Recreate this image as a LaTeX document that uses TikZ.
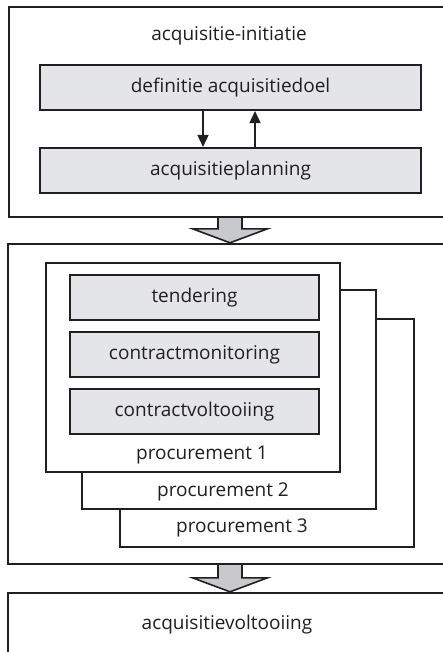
\documentclass[tikz,border=0pt]{standalone}
\usepackage{fontspec}
\setmainfont{Open Sans}
\usetikzlibrary{arrows.meta}

\definecolor{ink}{HTML}{231F20}
\definecolor{stepfill}{HTML}{E4E5E9}
\definecolor{flowfill}{HTML}{C8C9CD}

\tikzset{
  phase/.style={draw=ink, line width=2.4pt, fill=white},
  procbox/.style={draw=ink, line width=2.1pt, fill=white, minimum width=294pt},
  stepbox/.style={draw=ink, line width=2.1pt, fill=stepfill, minimum height=45pt},
  lbl/.style={font=\fontsize{19}{21}\selectfont, text=ink, inner sep=0pt},
  link/.style={draw=ink, line width=1.6pt, -{Triangle[width=11pt,length=12pt]}},
  flow/.style={draw=ink, line width=1.6pt, fill=flowfill, line join=miter}
}

\begin{document}
\begin{tikzpicture}[x=1pt, y=-1pt]
	\clip (0,0) rectangle (443,652);
	\fill[white] (0,0) rectangle (443,652);

	% initiatie
	\node[phase, minimum width=442pt, minimum height=210pt] (init) at (230,112) {};
	\node[lbl] (initlbl) at (229,36) {acquisitie-initiatie};
	\node[stepbox, minimum width=381pt, lbl] (goal) at (230.5,87.5) {definitie acquisitiedoel};
	\node[stepbox, minimum width=381pt, lbl] (plan) at (230.5,170.5) {acquisitieplanning};
	\draw[link] ([xshift=-27.5pt]goal.south) -- ([xshift=-27.5pt]plan.north);
	\draw[link] ([xshift=24.5pt]plan.north) -- ([xshift=24.5pt]goal.south);

	% procurements
	\node[phase, minimum width=444pt, minimum height=320pt] (proc) at (230,404) {};
	\node[procbox, minimum height=228pt] (p3) at (267,433) {};
	\node[procbox, minimum height=219pt] (p2) at (229,399.5) {};
	\node[procbox, minimum height=209pt] (p1) at (193,367.5) {};
	\node[stepbox, minimum width=249pt, lbl] (tender) at (194.5,297.5) {tendering};
	\node[stepbox, minimum width=249pt, lbl] (monitor) at (194.5,354.5) {contractmonitoring};
	\node[stepbox, minimum width=249pt, lbl] (close) at (194.5,411.5) {contractvoltooiing};
	\node[lbl] (p1lbl) at (202,455) {procurement 1};
	\node[lbl] (p2lbl) at (223,492) {procurement 2};
	\node[lbl] (p3lbl) at (242,528) {procurement 3};

	% voltooiing
	\node[phase, minimum width=444pt, minimum height=107pt] (done) at (230,646.5) {};
	\node[lbl] (donelbl) at (227,625) {acquisitievoltooiing};

	% block arrows between the phases
	\draw[flow] ([xshift=-12pt]init.south) -- ([xshift=-12pt,yshift=14pt]proc.north)
		-- ([xshift=-37.5pt,yshift=14pt]proc.north) -- (proc.north)
		-- ([xshift=37.5pt,yshift=14pt]proc.north) -- ([xshift=12pt,yshift=14pt]proc.north)
		-- ([xshift=12pt]init.south);
	\draw[flow] ([xshift=-12pt]proc.south) -- ([xshift=-12pt,yshift=14pt]done.north)
		-- ([xshift=-37.5pt,yshift=14pt]done.north) -- (done.north)
		-- ([xshift=37.5pt,yshift=14pt]done.north) -- ([xshift=12pt,yshift=14pt]done.north)
		-- ([xshift=12pt]proc.south);
\end{tikzpicture}
\end{document}
